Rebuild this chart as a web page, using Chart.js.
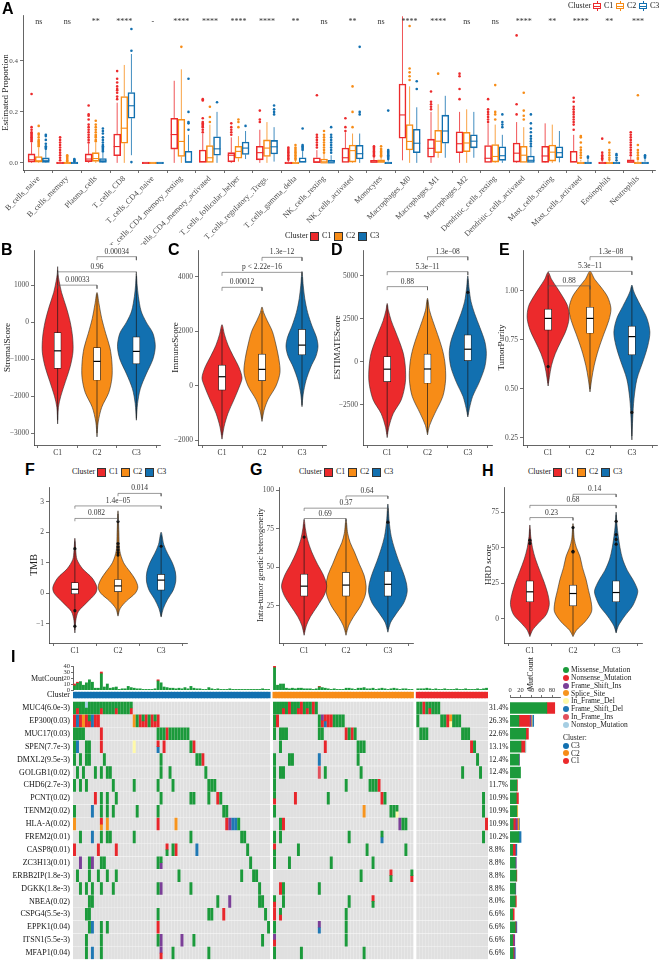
<!DOCTYPE html>
<html>
<head>
<meta charset="utf-8">
<title>Immune infiltration, scores and mutation landscape by cluster</title>
<script src="https://cdn.jsdelivr.net/npm/chart.js@4.4.1/dist/chart.umd.min.js"></script>
<style>
  html,body{margin:0;padding:0;background:#fff;}
  #fig{position:relative;width:661px;height:961px;overflow:hidden;background:#fff;font-family:'Liberation Serif','Times New Roman',serif;color:#222;}
  #fig canvas{position:absolute;}
  .pl{position:absolute;font-family:'Liberation Sans',Arial,sans-serif;font-weight:bold;font-size:16px;line-height:16px;color:#000;}
  .tx{position:absolute;white-space:nowrap;line-height:1;font-size:8px;color:#333;}
  .sw{position:absolute;box-sizing:border-box;}
</style>
</head>
<body>
<div id="fig"></div>
<script>
// ===== Panel A : estimated proportions =====
const cellTypes = ['B_cells_naive','B_cells_memory','Plasma_cells','T_cells_CD8','T_cells_CD4_naive',
  'T_cells_CD4_memory_resting','T_cells_CD4_memory_activated','T_cells_follicular_helper',
  'T_cells_regulatory_.Tregs.','T_cells_gamma_delta','NK_cells_resting','NK_cells_activated','Monocytes',
  'Macrophages_M0','Macrophages_M1','Macrophages_M2','Dendritic_cells_resting','Dendritic_cells_activated',
  'Mast_cells_resting','Mast_cells_activated','Eosinophils','Neutrophils'];
const sigLabels = ['ns','ns','**','****','-','****','****','****','****','**','ns','**','ns','****','****','ns','ns','****','**','****','**','***'];
const aTicks = [0, 0.2, 0.4];
const aTickLabels = ['0.0','0.2','0.4'];
// [lower whisker, q1, median, q3, upper whisker]
const aBoxC1 = [[0,0.003,0.012,0.035,0.08],[0,0,0,0.002,0.005],[0,0.005,0.015,0.035,0.075],[0,0.028,0.064,0.113,0.236],
  [0,0,0,0,0],[0,0.054,0.111,0.175,0.322],[0,0,0.005,0.05,0.115],[0,0.004,0.03,0.04,0.1],[0,0.012,0.04,0.065,0.13],
  [0,0,0,0.003,0.01],[0,0,0.002,0.02,0.05],[0,0,0.02,0.058,0.12],[0,0,0.003,0.01,0.02],[0.01,0.097,0.188,0.309,0.575],
  [0,0.022,0.057,0.093,0.2],[0,0.04,0.075,0.122,0.2],[0,0,0.018,0.068,0.155],[0,0.003,0.038,0.078,0.16],
  [0,0.002,0.027,0.065,0.155],[0,0,0.005,0.045,0.11],[0,0,0,0.003,0.008],[0,0,0.003,0.012,0.025]];
const aOutC1 = [[0.085,0.09,0.095,0.1,0.105,0.11,0.115,0.12,0.13,0.14,0.27],[0.01,0.02,0.03,0.04,0.05,0.06,0.07,0.08,0.09,0.1],
  [0.08,0.09,0.1,0.11,0.12,0.13,0.14,0.15,0.17,0.185,0.19,0.225],[0.25,0.26,0.275,0.285,0.29,0.3,0.315,0.33,0.36],[],[],
  [0.12,0.13,0.14,0.145,0.15,0.155,0.16,0.175,0.245,0.25],[0.11,0.12,0.13,0.14,0.155],[0.16,0.17,0.205],
  [0.012,0.018,0.024,0.03,0.036,0.042,0.048,0.054,0.06],[0.06,0.07,0.08,0.09,0.1,0.11,0.265],[0.125,0.14,0.175],
  [0.025,0.03,0.035,0.04,0.045,0.05,0.055,0.06,0.065],[],[0.21,0.22,0.23,0.24,0.28],[0.25,0.29,0.34,0.35],
  [0.16,0.17,0.18,0.19,0.2,0.21,0.25],[0.19,0.23,0.5],[],[0.13,0.15,0.16,0.17,0.18,0.19,0.2,0.21,0.22,0.24,0.255],
  [0.012,0.018,0.024,0.03,0.04,0.095],[0.03,0.04,0.05,0.06,0.07,0.08,0.09,0.1,0.11,0.12]];
const aBoxC2 = [[0,0.003,0.008,0.025,0.06],[0,0,0,0.001,0.003],[0,0.006,0.017,0.04,0.08],[0,0.077,0.136,0.26,0.384],
  [0,0,0,0,0],[0,0.025,0.084,0.171,0.367],[0,0,0.02,0.068,0.15],[0.005,0.018,0.045,0.065,0.105],[0,0.025,0.058,0.09,0.16],
  [0,0,0,0.003,0.008],[0,0,0,0.015,0.035],[0,0.003,0.048,0.07,0.115],[0,0,0.004,0.012,0.022],[0,0.051,0.084,0.15,0.3],
  [0.02,0.04,0.085,0.128,0.23],[0,0.044,0.078,0.12,0.21],[0,0.003,0.025,0.072,0.15],[0,0,0.03,0.065,0.14],
  [0,0.007,0.042,0.07,0.15],[0,0,0,0.005,0.012],[0,0,0,0.003,0.008],[0,0,0,0.004,0.01]];
const aOutC2 = [[0.065,0.07,0.075,0.08,0.085,0.09,0.1,0.11,0.115,0.145],[0.005,0.01,0.015,0.02,0.025,0.03],
  [0.085,0.09,0.1,0.105,0.11,0.12,0.13,0.14,0.15,0.165],[],[],[0.455],[0.16,0.18,0.22],[0.14,0.16,0.17],[],
  [0.012,0.018,0.024,0.03,0.036,0.042,0.048,0.054,0.06,0.07],[0.04,0.05,0.06,0.07,0.08,0.09,0.1,0.11,0.125],[0.14,0.2,0.3],
  [0.025,0.03,0.035,0.04,0.045,0.05,0.055,0.065],[0.325,0.34,0.355,0.37,0.537],[0.35],[],[0.17,0.19,0.2,0.305],
  [0.17,0.185,0.205,0.275],[],[0.02,0.03,0.04,0.05,0.06,0.08,0.1,0.105],[0.012,0.02,0.03,0.04,0.05,0.08],
  [0.015,0.02,0.03,0.04,0.05,0.07,0.265]];
const aBoxC3 = [[0,0.002,0.01,0.02,0.05],[0,0,0,0.001,0.003],[0,0.002,0.008,0.017,0.04],[0.03,0.175,0.224,0.276,0.427],
  [0,0,0,0,0],[0,0,0.003,0.045,0.11],[0,0.03,0.055,0.102,0.2],[0.015,0.033,0.058,0.082,0.125],[0.005,0.035,0.063,0.088,0.14],
  [0,0,0.005,0.02,0.045],[0,0,0,0.01,0.03],[0,0.015,0.036,0.069,0.115],[0,0,0,0.005,0.012],[0,0.04,0.077,0.132,0.218],
  [0.02,0.077,0.125,0.187,0.263],[0.02,0.059,0.085,0.11,0.2],[0,0.01,0.028,0.063,0.11],[0,0,0.01,0.027,0.06],
  [0.002,0.02,0.04,0.063,0.125],[0,0,0,0.003,0.015],[0,0,0,0.002,0.005],[0,0,0,0.005,0.015]];
const aOutC3 = [[0.055,0.06,0.065,0.075,0.09,0.105,0.11],[0.005,0.008,0.012,0.015],
  [0.045,0.05,0.055,0.06,0.065,0.07,0.08,0.09,0.1,0.115,0.125,0.135],[0.003,0.44,0.525],[],[0.13,0.155,0.16,0.2,0.33],
  [0.238],[0.145],[0.19,0.2,0.21,0.225],[0.05,0.055,0.06,0.065,0.07,0.135],[0.04,0.05,0.06,0.07,0.08,0.09,0.1,0.11,0.14],
  [0.19,0.2,0.455],[0.015,0.02,0.025,0.03,0.035,0.04,0.045,0.05,0.205],[0.29,0.32],[],[],[0.14,0.15,0.16,0.19],
  [0.065,0.075,0.085,0.095,0.105,0.12,0.135,0.155,0.19],[],[0.02,0.025],[0.01,0.02,0.03,0.035],[0.02,0.025,0.03]];

// ===== Panels B-H : violins ([value, half width]) =====
const stromalShape = [
  [[-2750,0],[-2300,0.02],[-2000,0.08],[-1600,0.2],[-1200,0.32],[-800,0.39],[-400,0.38],[0,0.32],[400,0.22],[800,0.1],[1100,0.04],[1300,0.01],[1500,0]],
  [[-3100,0],[-2700,0.03],[-2300,0.12],[-1900,0.3],[-1500,0.38],[-1100,0.38],[-700,0.33],[-300,0.22],[100,0.12],[500,0.05],[800,0]],
  [[-2650,0],[-2200,0.03],[-1800,0.1],[-1400,0.25],[-1000,0.42],[-650,0.48],[-300,0.42],[0,0.25],[300,0.12],[700,0.05],[1000,0.02],[1300,0]]];
const stromalBox = [[-2650,-1250,-775,-280,1400],[-3000,-1570,-1060,-690,750],[-2600,-1130,-790,-400,1250]];
const stromalOut = [[],[],[]];
const stromalP = [[1,2,1000,'0.00033'],[1,3,1360,'0.96'],[2,3,1770,'0.00034']];
const stromalRange = [-3320,1950];
const stromalTicks = [-3000,-2000,-1000,0,1000];
const stromalTickLabels = ['\u22123000','\u22122000','\u22121000','0','1000'];

const immuneShape = [
  [[-1950,0],[-1500,0.05],[-1000,0.15],[-500,0.3],[0,0.44],[300,0.5],[700,0.42],[1100,0.28],[1500,0.15],[1900,0.06],[2250,0]],
  [[-1300,0],[-900,0.05],[-500,0.15],[0,0.35],[500,0.45],[1000,0.42],[1500,0.35],[2000,0.26],[2400,0.13],[2700,0.04],[2900,0]],
  [[-760,0],[-300,0.03],[200,0.1],[700,0.22],[1100,0.35],[1450,0.4],[1800,0.36],[2200,0.25],[2700,0.14],[3200,0.07],[3700,0.03],[4200,0]]];
const immuneBox = [[-1800,-150,340,770,2100],[-1200,200,610,1170,2750],[-700,1140,1500,2080,4000]];
const immuneOut = [[],[],[]];
const immuneP = [[1,2,3620,'0.00012'],[1,3,4170,'p < 2.22e\u221216'],[2,3,4720,'1.3e\u221212']];
const immuneRange = [-2165,4990];
const immuneTicks = [-2000,0,2000,4000];
const immuneTickLabels = ['\u22122000','0','2000','4000'];

const estimateShape = [
  [[-4400,0],[-3800,0.04],[-3000,0.15],[-2200,0.35],[-1200,0.45],[-300,0.45],[500,0.4],[1200,0.3],[1800,0.2],[2400,0.1],[3000,0.03],[3400,0]],
  [[-4240,0],[-3700,0.05],[-3000,0.18],[-2000,0.38],[-1000,0.45],[0,0.43],[800,0.36],[1600,0.25],[2400,0.13],[3000,0.05],[3700,0]],
  [[-3200,0],[-2700,0.04],[-2000,0.12],[-1200,0.28],[-300,0.42],[500,0.46],[1200,0.42],[2000,0.3],[2800,0.17],[3500,0.08],[4300,0.03],[5000,0]]];
const estimateBox = [[-4200,-1150,-420,310,3300],[-4100,-1240,-410,460,3600],[-3100,80,740,1570,4800]];
const estimateOut = [[],[],[4050]];
const estimateP = [[1,2,4380,'0.88'],[1,3,5250,'5.3e\u221211'],[2,3,6120,'1.3e\u221208']];
const estimateRange = [-4830,6510];
const estimateTicks = [-2500,0,2500,5000];
const estimateTickLabels = ['\u22122500','0','2500','5000'];

const purityShape = [
  [[0.515,0],[0.56,0.03],[0.62,0.08],[0.68,0.17],[0.74,0.3],[0.8,0.43],[0.86,0.5],[0.92,0.47],[0.97,0.35],[1.02,0.2],[1.06,0.08],[1.095,0]],
  [[0.485,0],[0.55,0.04],[0.62,0.1],[0.7,0.2],[0.78,0.33],[0.85,0.45],[0.91,0.5],[0.97,0.42],[1.02,0.26],[1.06,0.11],[1.1,0]],
  [[0.24,0],[0.35,0.02],[0.45,0.05],[0.55,0.12],[0.65,0.28],[0.72,0.38],[0.79,0.43],[0.86,0.36],[0.92,0.22],[0.97,0.1],[1.0,0.04],[1.03,0]]];
const purityBox = [[0.53,0.8,0.86,0.907,1.08],[0.5,0.784,0.86,0.917,1.09],[0.26,0.674,0.767,0.821,1.02]];
const purityOut = [[0.614],[],[0.38]];
const purityP = [[1,2,1.026,'0.88'],[1,3,1.10,'5.3e\u221211'],[2,3,1.175,'1.3e\u221208']];
const purityRange = [0.214,1.209];
const purityTicks = [0.25,0.5,0.75,1.0];
const purityTickLabels = ['0.25','0.50','0.75','1.00'];

const tmbShape = [
  [[-1.3,0],[-0.9,0.02],[-0.6,0.08],[-0.3,0.28],[0,0.48],[0.2,0.51],[0.5,0.4],[0.8,0.18],[1.1,0.05],[1.4,0.02],[1.8,0]],
  [[-0.75,0],[-0.5,0.05],[-0.25,0.2],[0,0.4],[0.2,0.46],[0.45,0.4],[0.7,0.28],[1.0,0.13],[1.4,0.04],[2.0,0.02],[2.7,0]],
  [[-0.78,0],[-0.5,0.05],[-0.2,0.15],[0.1,0.28],[0.4,0.34],[0.7,0.33],[1.0,0.26],[1.3,0.15],[1.6,0.06],[2.0,0]]];
const tmbBox = [[-1.2,-0.02,0.13,0.35,1.7],[-0.7,0.05,0.24,0.45,2.6],[-0.75,0.1,0.43,0.62,1.9]];
const tmbOut = [[1.46,-0.57,-1.08],[2.35,1.63,1.52,1.42,1.33,1.25],[1.54]];
const tmbP = [[1,2,2.45,'0.082'],[1,3,2.86,'1.4e\u221205'],[2,3,3.27,'0.014']];
const tmbRange = [-1.63,3.48];
const tmbTicks = [-1,0,1,2,3];
const tmbTickLabels = ['\u22121','0','1','2','3'];

const hetShape = [
  [[6,0],[12,0.05],[18,0.15],[25,0.32],[32,0.48],[38,0.54],[45,0.46],[52,0.32],[60,0.18],[68,0.08],[75,0.03],[81,0]],
  [[6,0],[12,0.06],[18,0.18],[25,0.35],[32,0.46],[38,0.48],[45,0.43],[52,0.32],[60,0.2],[66,0.1],[72,0.04],[81,0]],
  [[8,0],[14,0.06],[20,0.2],[27,0.38],[34,0.46],[40,0.44],[47,0.36],[54,0.26],[62,0.16],[70,0.08],[80,0.03],[91,0]]];
const hetBox = [[8,31.4,37.8,45.6,78],[8,31.4,38.5,46.7,79],[10,31.4,39,47.3,88]];
const hetOut = [[69.6],[],[79.2]];
const hetP = [[1,2,81.6,'0.69'],[1,3,88.3,'0.37'],[2,3,96.2,'0.64']];
const hetRange = [1,102];
const hetTicks = [25,50,75,100];
const hetTickLabels = ['25','50','75','100'];

const hrdShape = [
  [[-12.5,0],[-8,0.06],[-3,0.2],[3,0.38],[10,0.45],[17,0.42],[25,0.34],[33,0.24],[42,0.13],[50,0.06],[58,0.02],[66,0]],
  [[-12.5,0],[-8,0.08],[-2,0.28],[5,0.43],[12,0.42],[20,0.36],[28,0.3],[36,0.22],[44,0.16],[50,0.08],[56,0.03],[67,0]],
  [[-10,0],[-5,0.05],[2,0.2],[9,0.38],[16,0.48],[20,0.5],[27,0.4],[34,0.26],[42,0.15],[50,0.09],[58,0.05],[66,0.02],[75,0]]];
const hrdBox = [[-11,12,19,26.7,63],[-11,9.1,17.8,23.7,64],[-9,12,18.5,26.7,73]];
const hrdOut = [[55.3,53],[64.2,47.5,47],[68.6,59.3,55.8,52.5]];
const hrdP = [[1,2,71.2,'0.23'],[1,3,79.8,'0.68'],[2,3,87.6,'0.14']];
const hrdRange = [-17,92.7];
const hrdTicks = [0,25,50,75];
const hrdTickLabels = ['0','25','50','75'];

// ===== Panel I : oncoplot =====
const genes = ['MUC4(6.0e-3)','EP300(0.03)','MUC17(0.03)','SPEN(7.7e-3)','DMXL2(9.5e-3)','GOLGB1(0.02)','CHD6(2.7e-3)',
  'PCNT(0.02)','TENM2(0.02)','HLA-A(0.02)','FREM2(0.01)','CASP8(0.01)','ZC3H13(0.01)','ERBB2IP(1.8e-3)','DGKK(1.8e-3)',
  'NBEA(0.02)','CSPG4(5.5e-3)','EPPK1(0.04)','ITSN1(5.5e-3)','MFAP1(0.04)'];
const genePct = ['31.4%','26.3%','22.6%','13.1%','12.4%','12.4%','11.7%','10.9%','10.9%','10.9%','10.2%','8.8%','8.8%',
  '8.8%','8.8%','8.0%','6.6%','6.6%','6.6%','6.6%'];
const groupNames = ['C3','C2','C1'];
const groupSizes = [66,47,24];
// per gene: "column(s)+code"; codes M N I S D F J X, split cells a..n
const mutC3 = ['0M 1a 2-3M 4g 5-8M 9a 10-13M 14a 15-18M 19a','0N 1F 2N 3S 4N 5a 6F 7N 8N 20S 21M 22N 23a 24N 25M 26N 27a 28N',
  '0-3M 9N 28-30M 31N 32-38M','0M 1F 4-5M 9N 20D 28c 30N 39M 40N','0M 2M 4-5M 10M 29M 41-42M 43N',
  '1M 3M 7M 9M 11-12M 29M 32M 44M','0M 2M 4M 13M 20M 28M 33M 45-47M','7N 9M 11M 14M 29M 39-40M 45M 48N 49M',
  '0M 6F 9M 11M 13M 21M 28M 50-51M','0S 9n 11S 28N 34S 51N 52I 53-54F 55M','2M 6F 9M 11-12M 20M 39M 56-57M',
  '0N 8N 14N 31b 33M 34N 41F 58M','2I 5M 6I 9-10M 28M 29d 59M','1M 5M 8M 11M 14M 35M 56M 60-61M',
  '2M 4M 6M 9M 13M 28M 29I 39M 62M','5M 6M 48M 52I 62-63M','4-5M 28M 45-46M 50N 64M','5M 6F 9M 11M 28N 65M',
  '4M 9M 28M 29I 36I 40M 63M','4M 6F 9M 29e 33M 45M'];
const mutC2 = ['0-2M 3a 4M 5N 6-7M 8a 9N 10M 11a 12M 13N 14M','0M 1N 15M 16e 17c 18-19N 20-23M','0M 2-4M 15-16M 24N 25M 26N 27M',
  '2M 17N 28-30M','0M 5-6M 15F 28M','0M 2-3M 15J 17M 29M','0M 24M 32-34M 35N','0a 7N 18M 36N 37M','0M 30S 39-40M 41m',
  '2M 3N 42I 43-44M','0M 2M 25M 36f','0b 8M 31M 44M','0M 5M 19M 33M','29M 39b 46a','2N 3M 15M','0a 3M 25M 33b',
  '0N 2a 24M','0M 15k 24M','0e 24M','0M 9M 30M'];
const mutC1 = ['0-1M 2N 3M 4a 5-7M','0M 8-9M 10N 11h 12-14M','1-3M 15-17M','18N 19M','20M','15M 21M','','22M','22M','23N','22M',
  '','','','','','','','',''];
const tmbC3 = [10,13,14,8,12,17,13,3,3,30,5,10,3,4,5,1,2,2,6,4,3,2,2,1,1,1,1,2,17,12,5,4,3,3,2,3,2,4,2,6,3,2,2,1,1,4,2,1,2,1,1,1,2,1,1,1,1,1,1,1,1,1,1,2,1,1];
const tmbC2 = [40,8,10,10,3,2,3,2,3,3,2,2,2,1,2,6,4,3,2,1,2,1,1,1,3,3,2,1,3,3,4,2,2,3,1,2,3,2,1,2,3,2,1,2,2,1,1];
const tmbC1 = [2,2,2,3,2,1,2,1,1,2,1,1,1,2,1,1,2,1,1,1,2,1,2,3];
const tmbRedC3 = [[0,3],[1,2],[9,3],[28,2]];
const tmbRedC2 = [[0,3],[15,1]];
const tmbRedC1 = [];
const barMiss = [70,17,30,21,17,20,13,12,13,6,17,5,10,12,10,10,5,10,5,6];
const barNons = [15,20,5,7,0,0,1,4,0,4,0,5,0,1,0,2,3,1,1,1];
const barFsi  = [0,3,0,0,1,0,0,0,0,4,0,0,2,0,1,0,0,1,3,2];
const barSpl  = [0,1,0,0,0,0,0,0,1,3,0,0,0,0,0,0,0,0,0,0];
const barIfd  = [0,1,0,1,0,0,0,0,1,0,0,0,0,0,0,0,0,0,0,0];
const barFsd  = [0,3,0,1,0,0,0,0,0,1,4,3,0,0,0,0,0,1,0,1];
const barTicks = [0,20,40,60,80];
const tmbTopTicks = [0,10,20,30,40];
const mutTypes = ['Missense_Mutation','Nonsense_Mutation','Frame_Shift_Ins','Splice_Site','In_Frame_Del','Frame_Shift_Del','In_Frame_Ins','Nonstop_Mutation'];
const mutCodes = ['M','N','I','S','D','F','J','X'];
const mutColors = ['#1B9A3B','#E8262B','#7B3F98','#F7941D','#FFF9A8','#1F78B4','#E2505C','#A6CEE3'];
const splitCodes = {a:['M','N'], b:['N','M'], c:['N','F'], d:['M','I'], e:['I','N'], f:['M','F'], g:['X','M'],
  h:['S','D'], k:['I','F'], m:['M','D'], n:['N','S']};

// ===== helpers =====
const FONT = "'Liberation Serif','Times New Roman',serif";
const clusterNames = ['C1','C2','C3'];
const clusterColors = ['#EC2A2C','#F78C17','#1270B0'];
const fig = document.getElementById('fig');
Chart.defaults.font.family = FONT;
Chart.defaults.color = '#333';
Chart.defaults.animation = false;
Chart.defaults.plugins.legend.display = false;
Chart.defaults.plugins.tooltip.enabled = false;
if (Chart.defaults.plugins.colors) Chart.defaults.plugins.colors.enabled = false;

function addCanvas(x,y,w,h){
  const c = document.createElement('canvas');
  c.width = w; c.height = h; c.style.left = x+'px'; c.style.top = y+'px';
  c.style.width = w+'px'; c.style.height = h+'px';
  fig.appendChild(c); return c;
}
function addText(t,x,yc,size,extra){
  const d = document.createElement('div'); d.className = 'tx'; d.textContent = t;
  d.style.left = x+'px'; d.style.top = (yc - size/2)+'px'; d.style.fontSize = size+'px';
  if (extra) Object.assign(d.style, extra);
  fig.appendChild(d); return d;
}
function addSwatch(x,y,w,h,style){
  const d = document.createElement('div'); d.className = 'sw';
  Object.assign(d.style, {left:x+'px', top:y+'px', width:w+'px', height:h+'px'}, style);
  fig.appendChild(d); return d;
}
function panelLabel(t,x,y){ const d=document.createElement('div'); d.className='pl'; d.textContent=t; d.style.left=x+'px'; d.style.top=y+'px'; fig.appendChild(d); }
function fixW(w){ return s => { s.width = w; s.paddingLeft = s.paddingRight = s.paddingTop = s.paddingBottom = 0; }; }
function fixH(h){ return s => { s.height = h; s.paddingLeft = s.paddingRight = s.paddingTop = s.paddingBottom = 0; }; }
function textMarks(items, font, color, lift, baseline){
  return { id:'textMarks', afterDatasetsDraw(chart){
    const ctx = chart.ctx, xs = chart.scales.x, ys = chart.scales.y;
    ctx.save(); ctx.font = font; ctx.fillStyle = color; ctx.textAlign = 'center'; ctx.textBaseline = baseline;
    items.forEach(it => ctx.fillText(it.text, xs.getPixelForValue(it.x), ys.getPixelForValue(it.y) - lift));
    ctx.restore();
  }};
}
const tickGrid = {display:true, drawOnChartArea:false, drawTicks:true, tickLength:3, color:'#333', lineWidth:0.7};
const axisBorder = {display:true, color:'#222', width:0.7};
const noGrid = {display:false, drawTicks:false, tickLength:0};

// ===== A =====
(function(){
  const cv = addCanvas(0,0,661,245);
  const ds = [];
  const offs = [-0.25,0,0.25];
  [[aBoxC1,aOutC1],[aBoxC2,aOutC2],[aBoxC3,aOutC3]].forEach(([boxes,outs],k)=>{
    const col = clusterColors[k], off = offs[k];
    const wh=[], bx=[], md=[], ol=[];
    boxes.forEach((b,i)=>{
      const x = i+off;
      wh.push({x,y:b[0]},{x,y:b[1]},{x,y:null},{x,y:b[3]},{x,y:b[4]},{x,y:null});
      bx.push({x,y:[b[1],b[3]]});
      md.push({x,y:b[2]});
      outs[i].forEach(v=>ol.push({x,y:v}));
    });
    ds.push({type:'line', data:wh, borderColor:col, borderWidth:0.8, pointRadius:0, order:4});
    ds.push({type:'bar', data:bx, backgroundColor:'rgba(255,255,255,0)', borderColor:col, borderWidth:0.9,
      borderSkipped:false, barThickness:7, grouped:false, minBarLength:1.6, order:3});
    ds.push({type:'scatter', data:md, pointStyle:'line', pointRadius:3.5, pointBorderColor:col, pointBorderWidth:1.1, order:2});
    ds.push({type:'scatter', data:ol, pointRadius:1.3, pointBackgroundColor:col, pointBorderWidth:0, order:1});
  });
  new Chart(cv, {
    type:'scatter', data:{datasets:ds},
    options:{
      devicePixelRatio:1, responsive:false, events:[],
      layout:{autoPadding:false, padding:{left:0, top:15, right:6, bottom:0}},
      scales:{
        x:{type:'linear', min:-0.55, max:21.6, offset:false,
          afterBuildTicks:s=>{ s.ticks = cellTypes.map((c,i)=>({value:i})); },
          afterFit:fixH(75), grid:tickGrid, border:axisBorder,
          ticks:{autoSkip:false, minRotation:45, maxRotation:45, padding:1, font:{size:8}, color:'#4d4d4d',
            callback:v=>cellTypes[v]}},
        y:{type:'linear', min:-0.028, max:0.58,
          afterBuildTicks:s=>{ s.ticks = aTicks.map(v=>({value:v})); },
          afterFit:fixW(23), grid:tickGrid, border:axisBorder,
          ticks:{autoSkip:false, padding:2, font:{size:7}, color:'#4d4d4d', callback:(v,i)=>aTickLabels[i]},
          title:{display:true, text:'Estimated Proportion', font:{size:9}, color:'#222', padding:{top:0,bottom:0}}}
      }
    },
    plugins:[textMarks(sigLabels.map((t,i)=>({x:i,y:0.553,text:t})), '8px '+FONT, '#333', 0, 'middle')]
  });
})();

// ===== B-H =====
function makeViolin(p){
  const [cx,cy,cw,ch] = p.box;
  const cv = addCanvas(cx,cy,cw,ch);
  const ds = [];
  p.shape.forEach((prof,k)=>{
    const c = k+1, st = p.stats[k];
    const pts = prof.map(d=>({x:c+d[1], y:d[0]}));
    for (let i=prof.length-2;i>=0;i--) pts.push({x:c-prof[i][1], y:prof[i][0]});
    ds.push({type:'line', data:pts, fill:'shape', backgroundColor:clusterColors[k], borderColor:'#2a2a2a',
      borderWidth:0.6, tension:0.3, pointRadius:0, order:6});
    ds.push({type:'line', data:[{x:c,y:st[0]},{x:c,y:st[4]}], borderColor:'#1a1a1a', borderWidth:0.7, pointRadius:0, order:5});
    ds.push({type:'bar', data:[{x:c,y:[st[1],st[3]]}], backgroundColor:'#fff', borderColor:'#1a1a1a', borderWidth:0.7,
      borderSkipped:false, barThickness:7, grouped:false, order:4});
    ds.push({type:'scatter', data:[{x:c,y:st[2]}], pointStyle:'line', pointRadius:3.5, pointBorderColor:'#000', pointBorderWidth:1.2, order:3});
    ds.push({type:'scatter', data:p.out[k].map(v=>({x:c,y:v})), pointRadius:1.6, pointBackgroundColor:'#111', pointBorderWidth:0, order:2});
  });
  const tk = (p.range[1]-p.range[0])*0.018;
  const br = [];
  p.pv.forEach(([a,b,v])=>{ br.push({x:a,y:v-tk},{x:a,y:v},{x:b,y:v},{x:b,y:v-tk},{x:b,y:null}); });
  ds.push({type:'line', data:br, borderColor:'#555', borderWidth:0.6, pointRadius:0, order:1});
  new Chart(cv, {
    type:'scatter', data:{datasets:ds},
    options:{
      devicePixelRatio:1, responsive:false, events:[],
      layout:{autoPadding:false, padding:{left:p.area[0]-cx-p.axisW, top:p.area[1]-cy, right:cx+cw-p.area[2], bottom:0}},
      scales:{
        x:{type:'linear', min:0.4, max:3.6, offset:false,
          afterBuildTicks:s=>{ s.ticks = [1,2,3].map(v=>({value:v})); },
          afterFit:fixH(cy+ch-p.area[3]), grid:tickGrid, border:axisBorder,
          ticks:{autoSkip:false, maxRotation:0, padding:1, font:{size:7.5}, color:'#333', callback:v=>clusterNames[v-1]}},
        y:{type:'linear', min:p.range[0], max:p.range[1],
          afterBuildTicks:s=>{ s.ticks = p.ticks.map(v=>({value:v})); },
          afterFit:fixW(p.axisW), grid:tickGrid, border:axisBorder,
          ticks:{autoSkip:false, padding:2, font:{size:7.5}, color:'#4d4d4d', callback:(v,i)=>p.labels[i]},
          title:{display:true, text:p.title, font:{size:p.titleSize}, color:'#222', padding:{top:0,bottom:1}}}
      }
    },
    plugins:[textMarks(p.pv.map(([a,b,v,t])=>({x:(a+b)/2, y:v, text:t})), '7.5px '+FONT, '#333', 1.2, 'bottom')]
  });
}
[
  {box:[0,245,165,215], area:[34,250,160,445], axisW:32, title:'StromalScore', titleSize:9, shape:stromalShape, stats:stromalBox, out:stromalOut, pv:stromalP, range:stromalRange, ticks:stromalTicks, labels:stromalTickLabels},
  {box:[165,245,165,215], area:[198,250,326,445], axisW:28, title:'ImmuneScore', titleSize:9, shape:immuneShape, stats:immuneBox, out:immuneOut, pv:immuneP, range:immuneRange, ticks:immuneTicks, labels:immuneTickLabels},
  {box:[330,245,165,215], area:[363,250,492,445], axisW:31, title:'ESTIMATEScore', titleSize:9, shape:estimateShape, stats:estimateBox, out:estimateOut, pv:estimateP, range:estimateRange, ticks:estimateTicks, labels:estimateTickLabels},
  {box:[495,245,166,215], area:[523,250,657,445], axisW:27, title:'TumorPurity', titleSize:9, shape:purityShape, stats:purityBox, out:purityOut, pv:purityP, range:purityRange, ticks:purityTicks, labels:purityTickLabels},
  {box:[0,480,230,180], area:[49,487,187,643], axisW:21, title:'TMB', titleSize:10, shape:tmbShape, stats:tmbBox, out:tmbOut, pv:tmbP, range:tmbRange, ticks:tmbTicks, labels:tmbTickLabels},
  {box:[230,480,230,180], area:[279,487,413,643], axisW:23, title:'Intra-tumor genetic heterogeneity', titleSize:8.5, shape:hetShape, stats:hetBox, out:hetOut, pv:hetP, range:hetRange, ticks:hetTicks, labels:hetTickLabels},
  {box:[460,480,201,180], area:[504,487,642,643], axisW:21, title:'HRD score', titleSize:9, shape:hrdShape, stats:hrdBox, out:hrdOut, pv:hrdP, range:hrdRange, ticks:hrdTicks, labels:hrdTickLabels}
].forEach(makeViolin);

// ===== I =====
(function(){
  const rowsByGroup = [mutC3, mutC2, mutC1];
  const tmbByGroup = [tmbC3, tmbC2, tmbC1];
  const redByGroup = [tmbRedC3, tmbRedC2, tmbRedC1];
  const groupColor = {C1:clusterColors[0], C2:clusterColors[1], C3:clusterColors[2]};
  const starts = []; let acc = 0;
  groupSizes.forEach(n=>{ starts.push(acc); acc += n + 1; });
  const xMax = acc - 1;

  function parseRow(str){
    const out = [];
    str.trim().split(/\s+/).forEach(tok=>{
      const m = tok.match(/^(\d+)(?:-(\d+))?([A-Za-z])$/); if(!m) return;
      const a = +m[1], b = m[2] ? +m[2] : a;
      for (let c=a;c<=b;c++) out.push([c,m[3]]);
    });
    return out;
  }
  const grey = [], clus = [], clusCol = [];
  const cells = {}; mutCodes.forEach(k=>cells[k]=[]);
  const tGreen = [], tRed = [];
  groupSizes.forEach((n,g)=>{
    for (let j=0;j<n;j++){
      const x = starts[g]+j+0.5;
      for (let r=0;r<genes.length;r++) grey.push({x,y:[r+0.04,r+0.96]});
      clus.push({x,y:[-0.74,-0.27]}); clusCol.push(groupColor[groupNames[g]]);
      const tot = tmbByGroup[g][j];
      const red = (redByGroup[g].find(e=>e[0]===j) || [0,0])[1];
      tGreen.push({x,y:[0,tot-red]});
      if (red) tRed.push({x,y:[tot-red,tot]});
    }
    rowsByGroup[g].forEach((str,r)=>{
      parseRow(str).forEach(([c,code])=>{
        const x = starts[g]+c+0.5;
        if (splitCodes[code]) {
          const [t,b] = splitCodes[code];
          cells[t].push({x,y:[r+0.04,r+0.5]}); cells[b].push({x,y:[r+0.5,r+0.96]});
        } else if (cells[code]) cells[code].push({x,y:[r+0.04,r+0.96]});
      });
    });
  });

  // top: mutation counts per sample
  const cvT = addCanvas(0,655,500,38);
  new Chart(cvT, {
    type:'scatter',
    data:{datasets:[
      {type:'bar', data:tGreen, backgroundColor:mutColors[0], barThickness:2.2, grouped:false, borderWidth:0},
      {type:'bar', data:tRed, backgroundColor:mutColors[1], barThickness:2.2, grouped:false, borderWidth:0}
    ]},
    options:{
      devicePixelRatio:1, responsive:false, events:[],
      layout:{autoPadding:false, padding:{left:0, top:11, right:12, bottom:3}},
      scales:{
        x:{type:'linear', min:0, max:xMax, display:false, offset:false},
        y:{type:'linear', min:0, max:40, afterBuildTicks:s=>{ s.ticks = tmbTopTicks.map(v=>({value:v})); },
          afterFit:fixW(73), grid:Object.assign({}, tickGrid, {tickLength:2}), border:axisBorder,
          ticks:{autoSkip:false, padding:1, font:{size:6.5}, color:'#333'}}
      }
    }
  });

  // matrix
  const cvM = addCanvas(0,686,530,275);
  const mds = [{type:'bar', data:grey, backgroundColor:'#E0E0E0', barThickness:2.3, grouped:false, borderWidth:0, order:3},
    {type:'bar', data:clus, backgroundColor:clusCol, barThickness:3.4, grouped:false, borderWidth:0, order:2}];
  mutCodes.forEach((k,i)=>mds.push({type:'bar', data:cells[k], backgroundColor:mutColors[i], barThickness:2.3, grouped:false, borderWidth:0, order:1}));
  const rowTicks = [-0.5].concat(genes.map((g,i)=>i+0.5));
  new Chart(cvM, {
    type:'scatter', data:{datasets:mds},
    options:{
      devicePixelRatio:1, responsive:false, events:[],
      layout:{autoPadding:false, padding:{left:0, top:5.2, right:12, bottom:1.5}},
      scales:{
        x:{type:'linear', min:0, max:xMax, display:false, offset:false},
        y:{type:'linear', min:-0.8, max:20, reverse:true, afterBuildTicks:s=>{ s.ticks = rowTicks.map(v=>({value:v})); },
          afterFit:fixW(73), grid:noGrid, border:{display:false},
          ticks:{autoSkip:false, padding:3, font:{size:8}, color:'#111', callback:v=> v<0 ? 'Cluster' : genes[Math.floor(v)]}},
        y2:{type:'linear', position:'right', min:-0.8, max:20, reverse:true,
          afterBuildTicks:s=>{ s.ticks = genes.map((g,i)=>({value:i+0.5})); },
          afterFit:fixW(30), grid:noGrid, border:{display:false},
          ticks:{autoSkip:false, padding:1, font:{size:7.5}, color:'#111', callback:v=>genePct[Math.floor(v)]}}
      }
    }
  });

  // right: mutations per gene by class
  const perType = [barMiss, barNons, barFsi, barSpl, barIfd, barFsd];
  const rsets = perType.map(()=>[]);
  genes.forEach((g,r)=>{
    let s = 0;
    perType.forEach((arr,t)=>{ const v = arr[r]; if (v>0){ rsets[t].push({y:r+0.5, x:[s,s+v]}); s += v; } });
  });
  const cvR = addCanvas(500,680,70,281);
  new Chart(cvR, {
    type:'bar',
    data:{datasets:rsets.map((d,t)=>({data:d, backgroundColor:mutColors[t], barThickness:11, grouped:false, borderWidth:0}))},
    options:{
      indexAxis:'y', devicePixelRatio:1, responsive:false, events:[],
      layout:{autoPadding:false, padding:{left:10, top:5, right:10, bottom:1.5}},
      scales:{
        x:{type:'linear', position:'top', min:0, max:95, offset:false,
          afterBuildTicks:s=>{ s.ticks = barTicks.map(v=>({value:v})); },
          afterFit:fixH(12), grid:Object.assign({}, tickGrid, {tickLength:2}), border:axisBorder,
          ticks:{autoSkip:false, maxRotation:0, padding:1, font:{size:6.5}, color:'#333'}},
        y:{type:'linear', min:-0.35, max:20, reverse:true, display:false, offset:false}
      }
    }
  });

  // texts
  addText('MutCount', 31, 679, 8, {color:'#222'});
  addText('MutCount', 516, 675, 8, {color:'#222', transform:'rotate(-90deg)', transformOrigin:'center center', width:'30px', textAlign:'center'});
  mutTypes.forEach((t,i)=>{
    const yc = 670 + i*7.8;
    addSwatch(563, yc-3, 6, 6, {background:mutColors[i], borderRadius:'50%'});
    addText(t, 571, yc, 7.5, {color:'#222'});
  });
  addText('Cluster:', 563, 737.5, 7.5, {color:'#222'});
  groupNames.forEach((g,i)=>{
    const yc = 745.7 + i*7.7;
    addSwatch(563, yc-3, 6, 6, {background:groupColor[g], borderRadius:'50%'});
    addText(g, 571, yc, 7.5, {color:'#222'});
  });
})();

// ===== legends & panel letters =====
function filledLegend(x0, yc){
  addText('Cluster', x0, yc, 8, {color:'#222'});
  clusterNames.forEach((c,i)=>{
    addSwatch(x0+25+i*24, yc-4.5, 9, 9, {background:clusterColors[i], border:'0.6px solid #333'});
    addText(c, x0+37+i*24, yc, 8, {color:'#222'});
  });
}
filledLegend(285, 236);
filledLegend(72, 472);
filledLegend(299, 472);
filledLegend(528, 472);
(function(){
  const x0 = 568, yc = 6;
  addText('Cluster', x0, yc, 8, {color:'#222'});
  clusterNames.forEach((c,i)=>{
    const x = x0+25+i*23, col = clusterColors[i];
    addSwatch(x+3.5, yc-5, 1, 10, {background:col});
    addSwatch(x, yc-3, 8, 6, {background:'#fff', border:'1px solid '+col});
    addSwatch(x, yc-0.5, 8, 1, {background:col});
    addText(c, x+11, yc, 8, {color:'#222'});
  });
})();
panelLabel('A',2,1); panelLabel('B',1,242); panelLabel('C',168,242); panelLabel('D',331,242); panelLabel('E',499,242);
panelLabel('F',25,462); panelLabel('G',250,462); panelLabel('H',482,463); panelLabel('I',11,649);
</script>
</body>
</html>
